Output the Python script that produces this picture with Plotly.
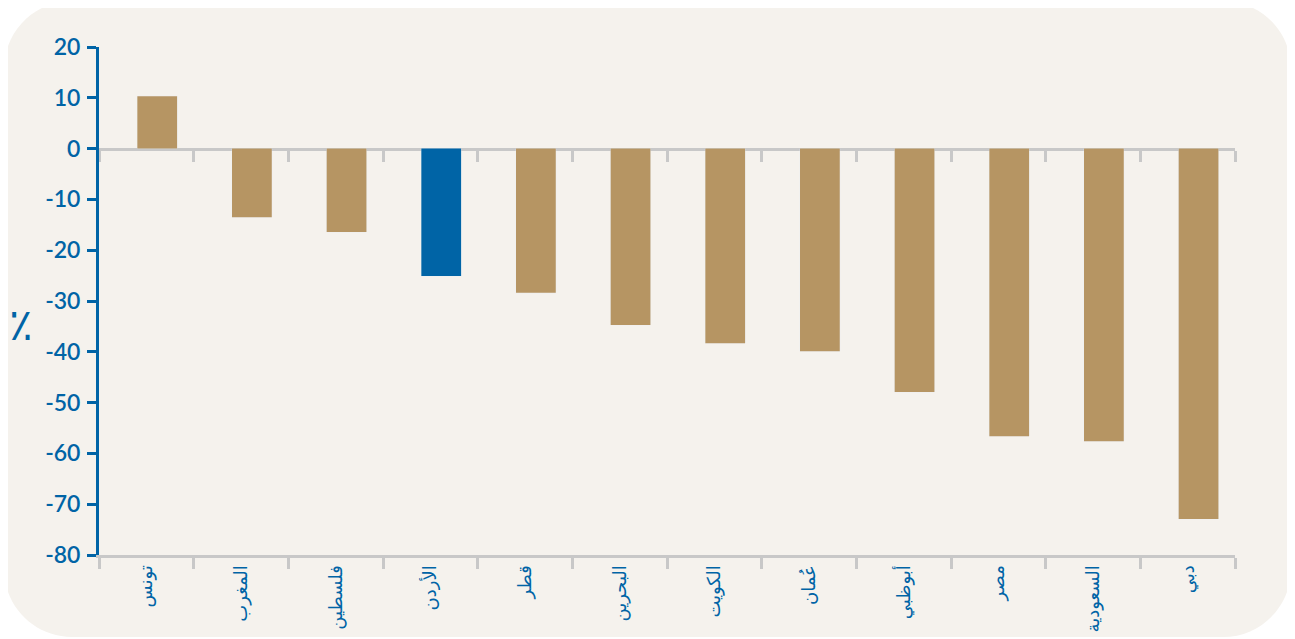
import plotly.graph_objects as go

countries = ["تونس", "المغرب", "فلسطين", "الأردن", "قطر", "البحرين", "الكويت", "عُمان", "أبوظبي", "مصر", "السعودية", "دبي"]
values = [10.3, -13.5, -16.4, -25.1, -28.4, -34.7, -38.3, -39.9, -47.9, -56.6, -57.6, -72.9]
highlight = "الأردن"
y_ticks = [20, 10, 0, -10, -20, -30, -40, -50, -60, -70, -80]

TAN = "#b69563"
BLUE = "#0064a6"
GRAY = "#c8c8c8"
BG = "#f5f2ed"

OFF = 8  # browser body margin
W, H = 1295 - OFF, 639 - OFF
L, R, T, B = 99 - OFF, 60, 47 - OFF, 84
PW, PH = W - L - R, H - T - B

colors = [BLUE if c == highlight else TAN for c in countries]
BAR_W, BAR_OFF = 0.42, -0.095

fig = go.Figure()
fig.add_trace(go.Bar(x=countries, y=values, marker_color="rgba(0,0,0,0)",
                     hoverinfo="skip", showlegend=False, width=BAR_W, offset=BAR_OFF,
                     xaxis="x", yaxis="y"))
fig.add_trace(go.Bar(x=countries, y=values, marker_color=colors, marker_line_width=0,
                     width=BAR_W, offset=BAR_OFF, showlegend=False, xaxis="x2", yaxis="y"))

ymin, ymax = -80, 20
zero_pos = (0 - ymin) / (ymax - ymin)


def px2paper(x, y):
    x -= OFF
    y -= OFF
    return (x - L) / PW, (H - B - y) / PH


def P(x, y):
    fx, fy = px2paper(x, y)
    return f"{fx:.5f},{fy:.5f}"


x0, y0, x1, y1, r = 4, 1, 1291, 637, 68
k = 0.5523 * r
path = (f"M {P(x0 + r, y0)} L {P(x1 - r, y0)} "
        f"C {P(x1 - r + k, y0)} {P(x1, y0 + r - k)} {P(x1, y0 + r)} "
        f"L {P(x1, y1 - r)} "
        f"C {P(x1, y1 - r + k)} {P(x1 - r + k, y1)} {P(x1 - r, y1)} "
        f"L {P(x0 + r, y1)} "
        f"C {P(x0 + r - k, y1)} {P(x0, y1 - r + k)} {P(x0, y1 - r)} "
        f"L {P(x0, y0 + r)} "
        f"C {P(x0, y0 + r - k)} {P(x0 + r - k, y0)} {P(x0 + r, y0)} Z")

ax_x, ax_y = px2paper(7, 323)

fig.update_layout(
    width=W, height=H,
    margin=dict(l=L, r=R, t=T, b=B, autoexpand=False),
    paper_bgcolor="white",
    plot_bgcolor="rgba(0,0,0,0)",
    barmode="overlay",
    font=dict(family="Lato, 'Noto Sans', sans-serif", color=BLUE),
    shapes=[dict(type="path", xref="paper", yref="paper", path=path,
                 fillcolor=BG, line=dict(width=0), layer="below")],
    xaxis=dict(
        type="category", categoryorder="array", categoryarray=countries,
        automargin=False,
        showline=True, linecolor=GRAY, linewidth=3,
        ticks="outside", tickson="boundaries", ticklen=11, tickwidth=3, tickcolor=GRAY,
        tickangle=-90, showgrid=False, zeroline=False,
        tickfont=dict(family="'Noto Sans', 'DejaVu Sans', sans-serif", size=18, color=BLUE),
        range=[-0.5, len(countries) - 0.5],
    ),
    xaxis2=dict(
        type="category", categoryorder="array", categoryarray=countries,
        overlaying="x", anchor="free", position=zero_pos, layer="below traces",
        showline=True, linecolor=GRAY, linewidth=3,
        ticks="outside", tickson="boundaries", ticklen=11, tickwidth=3, tickcolor=GRAY,
        showticklabels=False, showgrid=False, zeroline=False,
        range=[-0.5, len(countries) - 0.5],
    ),
    yaxis=dict(
        range=[ymin, ymax], tickvals=y_ticks, ticktext=[str(v) for v in y_ticks],
        automargin=False,
        showline=True, linecolor=BLUE, linewidth=3,
        ticks="outside", ticklen=9, tickwidth=3, tickcolor=BLUE,
        showgrid=False, zeroline=False,
        tickfont=dict(family="Lato, sans-serif", size=23, color=BLUE, weight=600),
        ticklabelstandoff=2,
    ),
    annotations=[dict(text="٪", xref="paper", yref="paper", x=ax_x, y=ax_y,
                      showarrow=False, font=dict(size=44, color=BLUE,
                                                 family="'Noto Sans', 'DejaVu Sans', sans-serif"))],
)

fig.write_html("out.html")
